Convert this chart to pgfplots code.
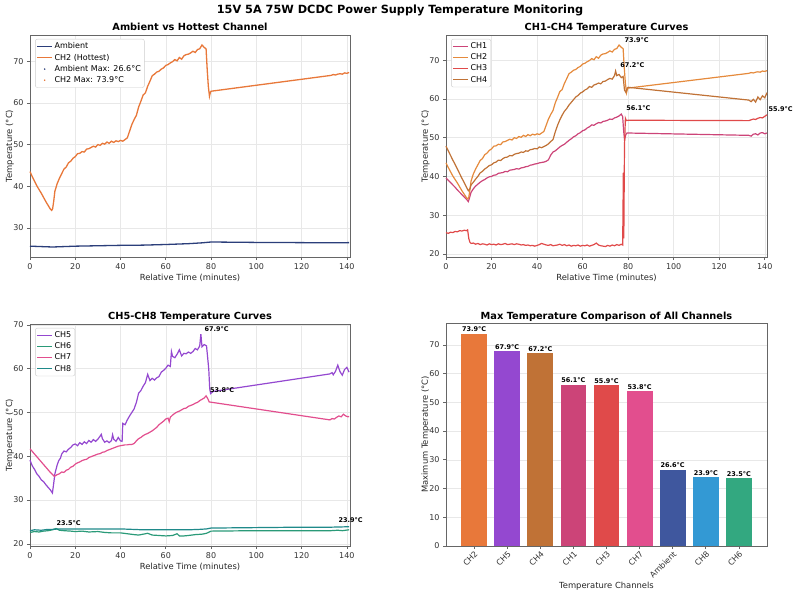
\documentclass[border=0pt]{standalone}
\usepackage{fontspec}
\setmainfont{DejaVu Sans}
\usepackage{pgfplots}
\usepackage{pgfplotstable}
\pgfplotsset{compat=1.18}

\definecolor{cAmbL}{HTML}{2B3E7A}
\definecolor{cAmb}{HTML}{3F579E}
\definecolor{cCH1}{HTML}{CC4478}
\definecolor{cCH2}{HTML}{E8783A}
\definecolor{cCH2b}{HTML}{E58A3C}
\definecolor{cCH3}{HTML}{E04A4A}
\definecolor{cCH4}{HTML}{C07236}
\definecolor{cCH5}{HTML}{9448D0}
\definecolor{cCH6}{HTML}{33A880}
\definecolor{cCH7}{HTML}{E24E8E}
\definecolor{cCH8}{HTML}{3399D4}
\definecolor{cCH6L}{HTML}{2A9A78}
\definecolor{cCH8L}{HTML}{1F8A8A}

\pgfplotstableread{
t T
0 25.6
5 25.5
10 25.4
15 25.5
20 25.6
30 25.7
40 25.8
50 25.85
60 26.0
70 26.2
76 26.4
78 26.5
80 26.6
90 26.55
100 26.5
120 26.45
133 26.4
141 26.45
}\tAmb

\pgfplotstableread{
t T
0 43.5
1 42.3
2 41.2
3 40.1
4 39.2
5 38.3
6 37.3
7 36.3
8 35.4
9 34.5
9.6 34.2
10 34.6
10.5 36.5
11 38.8
12 40.6
13 41.9
14 43.0
15 44.1
16 44.6
17 45.6
18 46.0
19 46.7
20 47.1
21 47.8
22 47.9
23 48.3
24 48.2
25 48.9
26 49.0
27 49.3
28 49.6
29 49.4
30 50.0
31 49.8
32 50.3
33 50.1
34 50.6
35 50.3
36 50.8
37 50.5
38 50.9
39 50.7
40 51.0
41 50.8
42 51.2
43 51.6
44 53.2
45 54.8
46 56.0
47 57.0
48 59.0
49 60.4
50 61.9
51 62.4
52 64.0
53 65.2
54 66.5
55 66.9
56 67.4
57 67.6
58 68.1
59 68.4
60 69.0
61 69.2
62 69.6
63 69.9
64 70.4
65 70.1
66 70.9
67 70.5
68 71.3
69 71.6
70 71.7
71 72.0
72 72.4
73 72.1
74 72.8
75 73.0
76 73.9
77 73.3
77.8 73.0
78.3 68.0
78.8 64.0
79.3 61.6
79.7 62.5
80 62.8
133 66.6
134 66.8
135 66.7
136 66.9
137 67.0
138 66.9
139 67.2
140 67.1
141 67.3
}\tCHtwo

\pgfplotstableread{
t T
0 39.6
1 39.0
2 38.4
3 37.8
4 37.2
5 36.5
6 35.9
7 35.3
8 34.7
9 34.1
9.8 33.5
10.5 34.8
11 35.9
12 36.8
13 37.5
14 38.0
15 38.5
16 38.9
17 39.2
18 39.6
19 39.9
20 40.0
21 40.3
22 40.4
23 40.8
24 40.9
25 41.0
26 41.3
27 41.2
28 41.6
29 41.7
30 41.8
31 42.0
32 41.9
33 42.2
34 42.3
35 42.5
36 42.6
37 42.9
38 43.0
39 43.2
40 43.3
41 43.5
42 43.6
43 43.7
44 43.9
45 44.3
46 45.5
47 46.3
48 46.6
49 47.1
50 47.6
51 48.0
52 48.3
53 48.8
54 49.3
55 49.7
56 50.2
57 50.5
58 51.0
59 51.3
60 51.8
61 52.0
62 52.5
63 52.8
64 53.3
65 53.2
66 53.6
67 53.9
68 53.8
69 54.2
70 54.3
71 54.5
72 54.8
73 54.7
74 55.1
75 55.3
76 55.6
77 56.1
77.6 55.4
78 52.0
78.4 49.5
79 50.8
79.5 51.2
80 51.2
133 50.6
134 50.4
135 50.9
136 51.0
137 50.7
138 51.2
139 51.3
140 51.0
141 51.2
}\tCHone

\pgfplotstableread{
t T
0 25.5
1 25.3
2 25.6
3 25.5
4 25.8
5 25.7
6 26.0
7 25.9
8 26.1
9 26.0
9.5 26.2
10 24.0
10.5 23.0
11 22.7
12 22.8
13 22.5
14 22.7
15 22.4
16 22.6
17 22.5
18 22.3
19 22.6
20 22.4
21 22.5
22 22.3
23 22.6
24 22.4
25 22.5
26 22.7
27 22.4
28 22.5
29 22.6
30 22.4
31 22.6
32 22.5
33 22.3
34 22.4
35 22.2
36 22.3
37 22.1
38 22.2
39 22.0
40 22.2
41 22.4
42 22.7
43 22.5
44 22.3
45 22.2
46 22.4
47 22.1
48 22.2
49 22.3
50 22.5
51 22.2
52 22.4
53 22.1
54 22.3
55 22.0
56 22.2
57 22.1
58 22.3
59 22.0
60 22.2
61 22.1
62 22.3
63 22.0
64 22.2
65 22.4
66 22.8
67 22.3
68 22.1
69 22.0
70 21.9
71 22.2
72 22.0
73 22.3
74 22.1
75 22.4
76 22.2
77 22.5
77.6 22.3
77.9 41.0
78.1 24.0
78.4 48.0
78.8 55.0
79.2 54.4
80 54.5
133 54.4
134 54.6
135 54.8
136 54.7
137 55.0
138 55.2
139 55.1
140 55.5
141 55.9
}\tCHthree

\pgfplotstableread{
t T
0 47.8
1 46.6
2 45.4
3 44.2
4 43.1
5 41.9
6 40.7
7 39.5
8 38.4
9 37.2
9.8 36.3
10.5 36.8
11 37.8
12 38.5
13 39.3
14 40.0
15 40.9
16 41.3
17 41.9
18 42.3
19 42.8
20 43.0
21 43.5
22 43.7
23 44.2
24 44.1
25 44.6
26 44.9
27 45.0
28 45.4
29 45.3
30 45.7
31 45.9
32 46.0
33 46.3
34 46.2
35 46.6
36 46.5
37 46.9
38 47.0
39 47.2
40 47.1
41 47.6
42 47.4
43 47.7
44 48.0
45 48.4
46 49.0
47 49.5
48 51.5
49 53.2
50 54.6
51 55.8
52 56.8
53 57.5
54 58.4
55 59.1
56 59.8
57 60.5
58 60.9
59 61.5
60 61.8
61 62.3
62 62.6
63 63.2
64 63.0
65 63.6
66 63.8
67 64.1
68 63.9
69 64.5
70 64.6
71 65.0
72 65.3
73 65.1
74 66.0
74.5 67.2
75 66.0
76 66.3
77 65.5
77.8 65.8
78.4 62.3
79 61.7
79.6 62.8
80 63.0
133 59.7
134 59.3
135 59.9
136 59.2
137 60.5
138 59.8
139 60.8
140 60.3
141 61.6
}\tCHfour

\pgfplotstableread{
t T
0 39.1
1 37.8
2 37.0
3 36.0
4 35.4
5 34.6
6 34.2
7 33.5
8 32.9
9 32.3
9.9 31.6
10.4 33.5
11 36.0
12 38.0
12.7 39.0
13.5 39.6
14 40.5
15 41.2
16 41.0
17 41.6
18 42.0
19 42.6
20 42.8
21 42.4
22 43.1
23 42.7
24 43.3
25 42.9
26 43.6
27 43.2
28 43.8
29 43.4
30 43.9
31 44.6
31.5 45.0
32 44.0
33 43.2
34 43.5
35 43.1
36 43.6
36.5 44.9
37 43.9
38 43.4
39 44.3
40 43.5
40.7 43.4
41 47.5
42 47.2
43 48.3
44 49.2
45 50.0
46 50.8
47 52.3
48 54.4
49 55.0
50 56.0
51 56.8
52 58.7
53 57.3
54 57.8
55 57.4
56 57.9
57 58.2
58 59.2
59 59.6
60 60.1
61 60.8
62 60.5
62.5 63.9
63 62.8
64 62.5
65 63.3
66 64.3
67 62.9
68 63.5
69 63.4
70 63.8
71 63.5
72 63.9
73 64.6
74 64.3
75 65.2
75.5 67.9
76 65.0
77 65.5
78 65.2
78.6 62.0
79 59.8
79.4 55.5
79.8 54.3
80.5 54.6
81 54.8
132.5 58.8
133.5 59.1
134 58.6
135 59.4
136 60.8
137 59.3
138 58.5
139 59.8
140 60.3
141 59.2
}\tCHfive

\pgfplotstableread{
t T
0 22.6
2 22.8
4 22.7
6 22.9
8 23.0
10 23.2
11.5 23.5
13 23.1
15 23.0
18 22.9
20 22.8
23 22.9
26 22.7
30 22.8
33 22.6
36 22.5
40 22.5
43 22.3
46 22.1
48 22.0
50 22.2
52 22.4
54 22.0
57 21.9
60 21.8
63 21.9
65 22.3
66 21.8
68 21.8
70 21.9
73 22.1
76 22.2
78 22.4
80 22.9
100 23.0
120 23.0
133 23.0
136 23.1
138 23.0
141 23.2
}\tCHsix

\pgfplotstableread{
t T
0 41.7
1 41.1
2 40.5
3 39.9
4 39.3
5 38.7
6 38.1
7 37.5
8 36.9
9 36.3
10 35.8
10.8 35.4
12 35.8
13 36.0
14 36.4
15 36.3
16 36.8
17 37.0
18 37.5
19 37.7
20 38.2
21 38.5
22 38.7
23 39.0
24 39.2
25 39.3
26 39.7
27 39.9
28 40.1
29 40.3
30 40.5
31 40.6
32 40.9
33 41.0
34 41.3
35 41.5
36 41.7
37 41.9
38 42.1
39 42.3
40 42.4
41 42.5
42 42.6
43 42.6
44 42.7
45 42.7
46 42.9
47 43.5
48 44.0
49 44.3
50 44.7
51 45.0
52 45.2
53 45.5
54 45.8
55 46.2
56 46.6
57 47.2
58 47.6
59 48.0
60 48.5
61 48.7
61.5 47.9
62 48.9
63 49.4
64 49.8
65 50.1
66 50.3
67 50.6
68 50.9
69 51.0
70 51.4
71 51.6
72 51.8
73 52.1
74 52.3
75 52.7
76 53.0
77 53.3
77.8 53.8
78.5 53.2
79.2 52.4
132.5 48.3
133.5 48.6
134.5 48.5
135.5 48.9
136.5 49.2
137.5 49.0
138.5 49.6
139.5 49.2
140.5 49.0
141 49.1
}\tCHseven

\pgfplotstableread{
t T
0 23.0
2 23.2
5 23.1
8 23.3
10 23.3
13 23.4
20 23.4
30 23.4
40 23.4
45 23.3
50 23.2
55 23.2
60 23.2
65 23.2
70 23.2
75 23.3
78 23.4
80 23.6
100 23.7
120 23.8
133 23.8
137 23.85
141 23.9
}\tCHeight

\tikzset{ann/.style={font=\bfseries\fontsize{6.5}{7}\selectfont, anchor=west, inner sep=0pt}}

\pgfplotsset{
  myax/.style={
    scale only axis, anchor=south west, clip=false,
    axis line style={black!60, line width=0.7pt},
    every tick/.style={black!60, line width=0.6pt},
    tick align=outside, major tick length=3pt, tick pos=left,
    tick label style={font=\fontsize{8}{9}\selectfont, text=black!80},
    /pgf/number format/assume math mode=true,
    grid=major, grid style={black!9, line width=0.4pt},
    label style={font=\fontsize{8.4}{9}\selectfont, text=black!85},
    every axis title shift=0pt,
    title style={font=\bfseries\fontsize{9.8}{11}\selectfont, at={(axis description cs:0.5,1)}, anchor=base, yshift=4pt},
    xlabel style={at={(axis description cs:0.5,0)}, anchor=base, yshift=-23.5pt},
    ylabel style={at={(axis description cs:-0.05625,0.5)}, anchor=base},
    legend style={anchor=north west, draw=black!20, rounded corners=2pt, fill=white,
      font=\fontsize{8}{9}\selectfont, inner sep=1.5pt, row sep=-0.3pt, cells={anchor=west}},
    legend image code/.code={\draw[#1, line width=0.8pt] (0pt,0pt) -- (15pt,0pt);},
  },
}

\begin{document}
\begin{tikzpicture}
\path[use as bounding box] (0pt,0pt) rectangle (800pt,595pt);
\node[anchor=base, font=\bfseries\fontsize{11.3}{13}\selectfont] at (400pt,581pt) {15V 5A 75W DCDC Power Supply Temperature Monitoring};

% Top left
\begin{axis}[myax, at={(30pt,338pt)}, width=320pt, height=222pt,
  xmin=0, xmax=141.4, ymin=23.0, ymax=76.3,
  xtick={0,20,...,140}, ytick={30,40,...,70},
  title={Ambient vs Hottest Channel},
  xlabel={Relative Time (minutes)}, ylabel={Temperature (°C)},
  legend style={at={(axis description cs:0.016,0.982)}}]
\addplot[cAmbL, line width=1.3pt] table {\tAmb};
\addlegendentry{Ambient}
\addplot[cCH2, line width=1.3pt] table {\tCHtwo};
\addlegendentry{CH2 (Hottest)}
\addlegendimage{legend image code/.code={\fill[cAmbL] (7.5pt,0pt) circle (0.5pt);}}
\addlegendentry{Ambient Max: 26.6°C}
\addlegendimage{legend image code/.code={\fill[cCH2] (7.5pt,0pt) circle (0.5pt);}}
\addlegendentry{CH2 Max: 73.9°C}
\end{axis}

% Top right
\begin{axis}[myax, at={(446pt,338pt)}, width=321pt, height=222pt,
  xmin=0, xmax=141, ymin=19.2, ymax=76.5,
  xtick={0,20,...,140}, ytick={20,30,...,70},
  title={CH1-CH4 Temperature Curves},
  xlabel={Relative Time (minutes)}, ylabel={Temperature (°C)},
  legend style={at={(axis description cs:0.016,0.982)}}]
\addplot[cCH1, line width=1.2pt] table {\tCHone};
\addlegendentry{CH1}
\addplot[cCH2b, line width=1.2pt] table {\tCHtwo};
\addlegendentry{CH2}
\addplot[cCH3, line width=1.2pt] table {\tCHthree};
\addlegendentry{CH3}
\addplot[cCH4, line width=1.2pt] table {\tCHfour};
\addlegendentry{CH4}
\node[ann] at (axis cs:78.4,75.3) {73.9°C};
\node[ann] at (axis cs:76.5,68.6) {67.2°C};
\node[ann] at (axis cs:79.1,57.6) {56.1°C};
\node[ann] at (axis cs:141.6,57.3) {55.9°C};
\end{axis}

% Bottom left
\begin{axis}[myax, at={(30pt,49pt)}, width=320pt, height=222pt,
  xmin=0, xmax=141.4, ymin=19.5, ymax=70.2,
  xtick={0,20,...,140}, ytick={20,30,...,70},
  title={CH5-CH8 Temperature Curves},
  xlabel={Relative Time (minutes)}, ylabel={Temperature (°C)},
  legend style={at={(axis description cs:0.016,0.982)}}]
\addplot[cCH5, line width=1.2pt] table {\tCHfive};
\addlegendentry{CH5}
\addplot[cCH6L, line width=1.2pt] table {\tCHsix};
\addlegendentry{CH6}
\addplot[cCH7, line width=1.2pt] table {\tCHseven};
\addlegendentry{CH7}
\addplot[cCH8L, line width=1.2pt] table {\tCHeight};
\addlegendentry{CH8}
\node[ann] at (axis cs:77.1,69.0) {67.9°C};
\node[ann] at (axis cs:79.5,55.0) {53.8°C};
\node[ann] at (axis cs:11.7,24.8) {23.5°C};
\node[ann] at (axis cs:136.3,25.3) {23.9°C};
\end{axis}

% Bottom right
\begin{axis}[myax, at={(446pt,49pt)}, width=321pt, height=223pt,
  xmin=-0.85, xmax=8.85, ymin=0, ymax=77.6,
  xmajorgrids=false, ymajorgrids=true,
  xtick={0,1,...,8}, xticklabels={CH2,CH5,CH4,CH1,CH3,CH7,Ambient,CH8,CH6},
  xticklabel style={rotate=45, anchor=north east, inner sep=1pt},
  ytick={0,10,...,70},
  title={Max Temperature Comparison of All Channels},
  xlabel={Temperature Channels}, ylabel={Maximum Temperature (°C)},
  xlabel style={yshift=-19pt},
  every node near coord/.style={font=\bfseries\fontsize{6.5}{7}\selectfont, text=black, anchor=south, inner sep=1.5pt},
  nodes near coords={\pgfmathprintnumber[fixed,precision=1,fixed zerofill]{\pgfplotspointmeta}°C}]
\addplot[ybar, bar width=0.78, bar shift=0pt, fill=cCH2, draw=none] coordinates {(0,73.9)};
\addplot[ybar, bar width=0.78, bar shift=0pt, fill=cCH5, draw=none] coordinates {(1,67.9)};
\addplot[ybar, bar width=0.78, bar shift=0pt, fill=cCH4, draw=none] coordinates {(2,67.2)};
\addplot[ybar, bar width=0.78, bar shift=0pt, fill=cCH1, draw=none] coordinates {(3,56.1)};
\addplot[ybar, bar width=0.78, bar shift=0pt, fill=cCH3, draw=none] coordinates {(4,55.9)};
\addplot[ybar, bar width=0.78, bar shift=0pt, fill=cCH7, draw=none] coordinates {(5,53.8)};
\addplot[ybar, bar width=0.78, bar shift=0pt, fill=cAmb, draw=none] coordinates {(6,26.6)};
\addplot[ybar, bar width=0.78, bar shift=0pt, fill=cCH8, draw=none] coordinates {(7,23.9)};
\addplot[ybar, bar width=0.78, bar shift=0pt, fill=cCH6, draw=none] coordinates {(8,23.5)};
\end{axis}
\end{tikzpicture}
\end{document}
